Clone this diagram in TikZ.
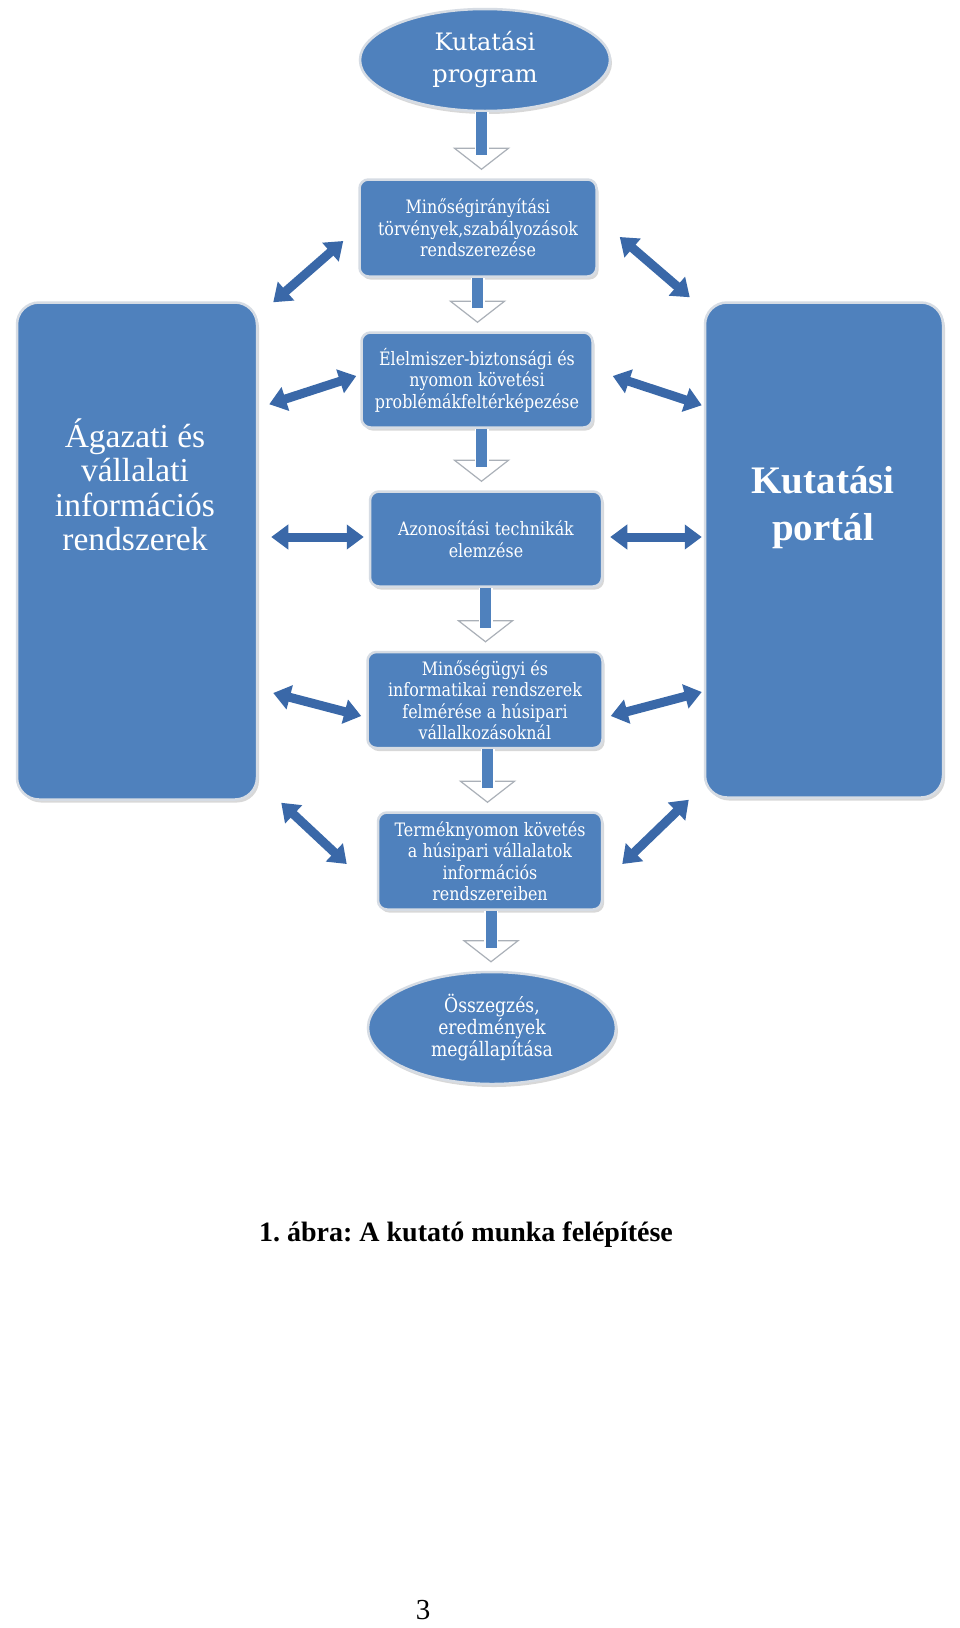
\documentclass[tikz,border=0pt]{standalone}
\usepackage{fontspec}
\setmainfont{Liberation Serif}
\newfontfamily\boxfont[FakeStretch=0.86]{DejaVu Serif}
\newfontfamily\ovalfont{DejaVu Serif}
\usetikzlibrary{shapes.geometric,arrows.meta,calc,shadows}
\definecolor{boxblue}{RGB}{79,129,189}
\definecolor{linkblue}{RGB}{58,104,168}
\definecolor{rimgray}{RGB}{214,220,228}
\definecolor{headgray}{RGB}{170,176,184}
\frenchspacing

\begin{document}
\begin{tikzpicture}[x=1pt,y=-1pt,
  box/.style={rectangle,rounded corners=9pt,fill=boxblue,draw=rimgray,line width=2.5pt,
    drop shadow={shadow xshift=2pt,shadow yshift=-3pt,opacity=0.3},
    text=white,align=center,inner sep=0pt,font=\boxfont\fontsize{18.5}{21.5}\selectfont},
  bigbox/.style={box,rounded corners=22pt},
  oval/.style={ellipse,fill=boxblue,draw=rimgray,line width=2.5pt,
    drop shadow={shadow xshift=2pt,shadow yshift=-3pt,opacity=0.3},
    text=white,align=center,inner sep=0pt},
  shaft/.style={draw=white,line width=1.5pt,double=boxblue,double distance=11pt},
  link/.style={draw=linkblue,line width=9pt,
    {Triangle[width=24pt,length=17pt]}-{Triangle[width=24pt,length=17pt]}}]
  % Page
  \fill[white] (0,0) rectangle (960,1628);
  \useasboundingbox (0,0) rectangle (960,1628);
  % Start and end
  \node[oval,minimum width=250pt,minimum height=102pt,
    font=\ovalfont\fontsize{24}{32}\selectfont] (prog) at (485,60) {Kutatási\\program};
  \node[oval,minimum width=248pt,minimum height=112pt,
    font=\boxfont\fontsize{20}{22}\selectfont] (sum) at (492,1028)
    {Összegzés,\\eredmények\\megállapítása};
  % Steps
  \node[box,minimum width=237pt,minimum height=97pt] (m1) at (478,228)
    {Minőségirányítási\\törvények,szabályozások\\rendszerezése};
  \node[box,minimum width=231pt,minimum height=95pt] (m2) at (477,380)
    {Élelmiszer-biztonsági és\\nyomon követési\\problémákfeltérképezése};
  \node[box,minimum width=232pt,minimum height=95pt] (m3) at (486,539)
    {Azonosítási technikák\\elemzése};
  \node[box,minimum width=235pt,minimum height=96pt] (m4) at (485,700)
    {Minőségügyi és\\informatikai rendszerek\\felmérése a húsipari\\vállalkozásoknál};
  \node[box,minimum width=224pt,minimum height=97pt] (m5) at (490,861)
    {Terméknyomon követés\\a húsipari vállalatok\\információs\\rendszereiben};
  % Side boxes
  \node[bigbox,minimum width=240pt,minimum height=497pt] (left) at (137,551) {};
  \node[text=white,align=center,font=\fontsize{33.5}{34.5}\selectfont] (lefttxt) at (135,485)
    {Ágazati és\\vállalati\\információs\\rendszerek};
  \node[bigbox,minimum width=238pt,minimum height=495pt] (right) at (824,550) {};
  \node[text=white,align=center,font=\bfseries\fontsize{39}{47}\selectfont] (righttxt) at (823,508)
    {Kutatási\\portál};
  % Flow arrows
  \foreach \a/\b in {prog/m1,m1/m2,m2/m3,m3/m4,m4/m5,m5/sum}{
    \coordinate (mid) at ($(\a.south)!0.5!(\b.north)$);
    \filldraw[fill=white,draw=headgray,line width=1.2pt]
      ($(mid |- \b.north)+(-27,-30)$) -- ($(mid |- \b.north)+(27,-30)$)
      -- ($(mid |- \b.north)+(0,-9)$) -- cycle;
    \draw[shaft] (mid |- \a.south) -- ($(mid |- \b.north)+(0,-23)$);
  }
  % Links to the side boxes
  \draw[link] ($(left.north east)+(15,1)$) -- ($(m1.west)+(-15,13)$);
  \draw[link] ($(m1.east)+(22,9)$) -- ($(right.north west)+(-14,-4)$);
  \draw[link] ($(left.north east)+(11,103)$) -- ($(m2.west)+(-4,-4)$);
  \draw[link] ($(m2.east)+(19,-4)$) -- ($(right.north west)+(-2,104)$);
  \draw[link] ($(left.east)+(13,-14)$) -- ($(m3.west)+(-5,-2)$);
  \draw[link] ($(m3.east)+(7,-2)$) -- ($(right.west)+(-2,-13)$);
  \draw[link] ($(left.east)+(15,142)$) -- ($(m4.west)+(-5,16)$);
  \draw[link] ($(m4.east)+(7,16)$) -- ($(right.west)+(-2,142)$);
  \draw[link] ($(left.south east)+(23,2)$) -- ($(m5.west)+(-30,3)$);
  \draw[link] ($(m5.east)+(19,3)$) -- ($(right.south west)+(-15,1)$);
  % Caption
  \node[font=\bfseries\fontsize{28}{34}\selectfont] (cap) at (466,1235)
    {1. ábra: A kutató munka felépítése};
  \node[font=\fontsize{29}{34}\selectfont] (pnum) at (423,1610) {3};
\end{tikzpicture}
\end{document}
